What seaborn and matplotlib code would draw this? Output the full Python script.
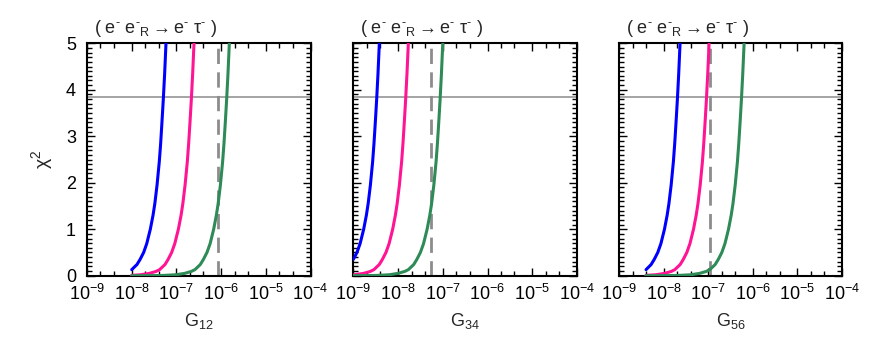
import numpy as np
import pandas as pd
import matplotlib
matplotlib.use("Agg")
import matplotlib.pyplot as plt
import seaborn as sns
from matplotlib.ticker import LogLocator, FixedLocator, MultipleLocator, NullFormatter

# ---------------- data ----------------
x_labels = ["G$_{12}$", "G$_{34}$", "G$_{56}$"]
title_text = "( e$^{‐}$ e$^{‐}$$_{\\rm R}$$\\rightarrow$e$^{‐}$ τ$^{‐}$ )"
chi2_limit = 3.84
bounds = [8.7e-7, 5.5e-8, 1.1e-7]
series_names = ["blue", "pink", "green"]
series_colors = ["#0000ff", "#ff1493", "#2e8b57"]

# panel 1
p1_blue_G = [1.0e-8, 1.31e-8, 1.54e-8, 1.85e-8, 2.17e-8, 2.61e-8, 3.00e-8, 3.29e-8, 3.69e-8, 4.14e-8, 4.44e-8, 4.75e-8, 5.09e-8, 5.46e-8, 5.85e-8, 6.12e-8]
p1_blue_chi2 = [0.13, 0.24, 0.35, 0.50, 0.69, 1.00, 1.30, 1.55, 1.95, 2.45, 2.84, 3.30, 3.79, 4.35, 5.0, 5.5]
p1_pink_G = [1.0e-8, 1.56e-8, 2.48e-8, 3.50e-8, 4.21e-8, 5.55e-8, 6.52e-8, 7.83e-8, 9.20e-8, 1.107e-7, 1.271e-7, 1.393e-7, 1.563e-7, 1.754e-7, 1.879e-7, 2.014e-7, 2.158e-7, 2.312e-7, 2.477e-7, 2.594e-7]
p1_pink_chi2 = [0.008, 0.02, 0.05, 0.092, 0.13, 0.24, 0.35, 0.50, 0.69, 1.00, 1.30, 1.55, 1.95, 2.45, 2.84, 3.30, 3.79, 4.35, 5.0, 5.5]
p1_green_G = [1.0e-8, 1.53e-8, 4.83e-8, 9.64e-8, 1.528e-7, 2.158e-7, 2.594e-7, 3.42e-7, 4.02e-7, 4.83e-7, 5.68e-7, 6.82e-7, 7.83e-7, 8.59e-7, 9.64e-7, 1.081e-6, 1.159e-6, 1.242e-6, 1.33e-6, 1.426e-6, 1.528e-6, 1.60e-6]
p1_green_chi2 = [0.0002, 0.0005, 0.005, 0.02, 0.05, 0.092, 0.13, 0.24, 0.35, 0.50, 0.69, 1.00, 1.30, 1.55, 1.95, 2.45, 2.84, 3.30, 3.79, 4.35, 5.0, 5.5]

# panel 2
p2_blue_G = [1.0e-9, 1.208e-9, 1.419e-9, 1.706e-9, 1.959e-9, 2.148e-9, 2.41e-9, 2.704e-9, 2.897e-9, 3.105e-9, 3.327e-9, 3.565e-9, 3.819e-9, 4.0e-9]
p2_blue_chi2 = [0.35, 0.50, 0.69, 1.00, 1.30, 1.55, 1.95, 2.45, 2.84, 3.30, 3.79, 4.35, 5.0, 5.5]
p2_pink_G = [1.0e-9, 1.698e-9, 2.399e-9, 2.884e-9, 3.802e-9, 4.467e-9, 5.37e-9, 6.31e-9, 7.59e-9, 8.71e-9, 9.55e-9, 1.072e-8, 1.202e-8, 1.288e-8, 1.380e-8, 1.479e-8, 1.585e-8, 1.698e-8, 1.778e-8]
p2_pink_chi2 = [0.018, 0.05, 0.092, 0.13, 0.24, 0.35, 0.50, 0.69, 1.00, 1.30, 1.55, 1.95, 2.45, 2.84, 3.30, 3.79, 4.35, 5.0, 5.5]
p2_green_G = [1.0e-9, 3.16e-9, 6.31e-9, 1.0e-8, 1.413e-8, 1.698e-8, 2.239e-8, 2.63e-8, 3.162e-8, 3.715e-8, 4.467e-8, 5.129e-8, 5.623e-8, 6.31e-8, 7.079e-8, 7.586e-8, 8.128e-8, 8.71e-8, 9.333e-8, 1.0e-7, 1.047e-7]
p2_green_chi2 = [0.0005, 0.005, 0.02, 0.05, 0.092, 0.13, 0.24, 0.35, 0.50, 0.69, 1.00, 1.30, 1.55, 1.95, 2.45, 2.84, 3.30, 3.79, 4.35, 5.0, 5.5]

# panel 3
p3_blue_G = [3.98e-9, 5.176e-9, 6.081e-9, 7.311e-9, 8.59e-9, 1.033e-8, 1.186e-8, 1.30e-8, 1.459e-8, 1.637e-8, 1.754e-8, 1.879e-8, 2.014e-8, 2.158e-8, 2.312e-8, 2.421e-8]
p3_blue_chi2 = [0.13, 0.24, 0.35, 0.50, 0.69, 1.00, 1.30, 1.55, 1.95, 2.45, 2.84, 3.30, 3.79, 4.35, 5.0, 5.5]
p3_pink_G = [3.98e-9, 6.546e-9, 1.038e-8, 1.466e-8, 1.762e-8, 2.323e-8, 2.729e-8, 3.281e-8, 3.855e-8, 4.634e-8, 5.321e-8, 5.834e-8, 6.546e-8, 7.345e-8, 7.87e-8, 8.433e-8, 9.036e-8, 9.683e-8, 1.038e-7, 1.086e-7]
p3_pink_chi2 = [0.008, 0.02, 0.05, 0.092, 0.13, 0.24, 0.35, 0.50, 0.69, 1.00, 1.30, 1.55, 1.95, 2.45, 2.84, 3.30, 3.79, 4.35, 5.0, 5.5]
p3_green_G = [3.98e-9, 6.34e-9, 2.004e-8, 4.0e-8, 6.34e-8, 8.954e-8, 1.076e-7, 1.419e-7, 1.667e-7, 2.004e-7, 2.355e-7, 2.831e-7, 3.251e-7, 3.565e-7, 4.0e-7, 4.487e-7, 4.808e-7, 5.152e-7, 5.521e-7, 5.916e-7, 6.339e-7, 6.637e-7]
p3_green_chi2 = [0.0002, 0.0005, 0.005, 0.02, 0.05, 0.092, 0.13, 0.24, 0.35, 0.50, 0.69, 1.00, 1.30, 1.55, 1.95, 2.45, 2.84, 3.30, 3.79, 4.35, 5.0, 5.5]

panels = [
    [(p1_blue_G, p1_blue_chi2), (p1_pink_G, p1_pink_chi2), (p1_green_G, p1_green_chi2)],
    [(p2_blue_G, p2_blue_chi2), (p2_pink_G, p2_pink_chi2), (p2_green_G, p2_green_chi2)],
    [(p3_blue_G, p3_blue_chi2), (p3_pink_G, p3_pink_chi2), (p3_green_G, p3_green_chi2)],
]
x_ticks = [1e-9, 1e-8, 1e-7, 1e-6, 1e-5, 1e-4]
x_ticklabels = ["10$^{-9}$", "10$^{-8}$", "10$^{-7}$", "10$^{-6}$", "10$^{-5}$", "10$^{-4}$"]
y_ticks = [0, 1, 2, 3, 4, 5]

# ---------------- style ----------------
sns.set_theme(style="ticks")
plt.rcParams["font.family"] = ["Liberation Sans", "DejaVu Sans"]
plt.rcParams["mathtext.fontset"] = "custom"
plt.rcParams["mathtext.rm"] = "Liberation Sans"
plt.rcParams["mathtext.it"] = "Liberation Sans:italic"
plt.rcParams["mathtext.bf"] = "Liberation Sans:bold"
plt.rcParams["axes.unicode_minus"] = True

fig = plt.figure(figsize=(8.72, 3.48), dpi=100)
W, H = 872.0, 348.0
lefts = [87.0, 353.3, 619.3]
widths = [223.5, 223.7, 222.7]
top_px, bot_px = 43.3, 275.7

fs = 13
palette = dict(zip(series_names, series_colors))

for i in range(3):
    ax = fig.add_axes([lefts[i] / W, 1 - bot_px / H, widths[i] / W, (bot_px - top_px) / H])
    ax.set_xscale("log")
    ax.axhline(chi2_limit, color="#8c8c8c", lw=1.1, zorder=1)
    ax.axvline(bounds[i], color="#8c8c8c", lw=2.0, dashes=(5.5, 3.0), zorder=1)
    rows = []
    for name, (gs, cs) in zip(series_names, panels[i]):
        for g, c in zip(gs, cs):
            rows.append({"G": g, "chi2": c, "series": name})
    df = pd.DataFrame(rows)
    sns.lineplot(data=df, x="G", y="chi2", hue="series", palette=palette, ax=ax,
                 legend=False, linewidth=2.2, sort=False, estimator=None, zorder=3)
    ax.set_xlim(1e-9, 1e-4)
    ax.set_ylim(0, 5)
    ax.xaxis.set_major_locator(FixedLocator(x_ticks))
    ax.set_xticklabels(x_ticklabels)
    ax.xaxis.set_minor_locator(LogLocator(base=10, subs=[2.0, 4.0], numticks=20))
    ax.xaxis.set_minor_formatter(NullFormatter())
    ax.yaxis.set_major_locator(FixedLocator(y_ticks))
    ax.yaxis.set_minor_locator(MultipleLocator(0.1))
    ax.tick_params(which="both", direction="in", top=True, right=True, colors="black",
                   labelsize=fs)
    ax.tick_params(which="major", length=6, width=1.0)
    ax.tick_params(which="minor", length=3.5, width=1.0)
    ax.tick_params(axis="x", pad=6)
    ax.tick_params(axis="y", pad=8)
    for sp in ax.spines.values():
        sp.set_visible(True)
        sp.set_linewidth(1.5)
        sp.set_color("black")
    if i > 0:
        ax.tick_params(axis="y", labelleft=False)
        ax.set_ylabel("")
    else:
        ax.set_ylabel("χ$^2$", fontsize=fs + 1, labelpad=8)
    ax.set_xlabel(x_labels[i], fontsize=fs, labelpad=5)
    ax.text(0.03, 1.02, title_text, transform=ax.transAxes, ha="left", va="bottom",
            fontsize=fs)

fig.savefig("out.png", dpi=100)
